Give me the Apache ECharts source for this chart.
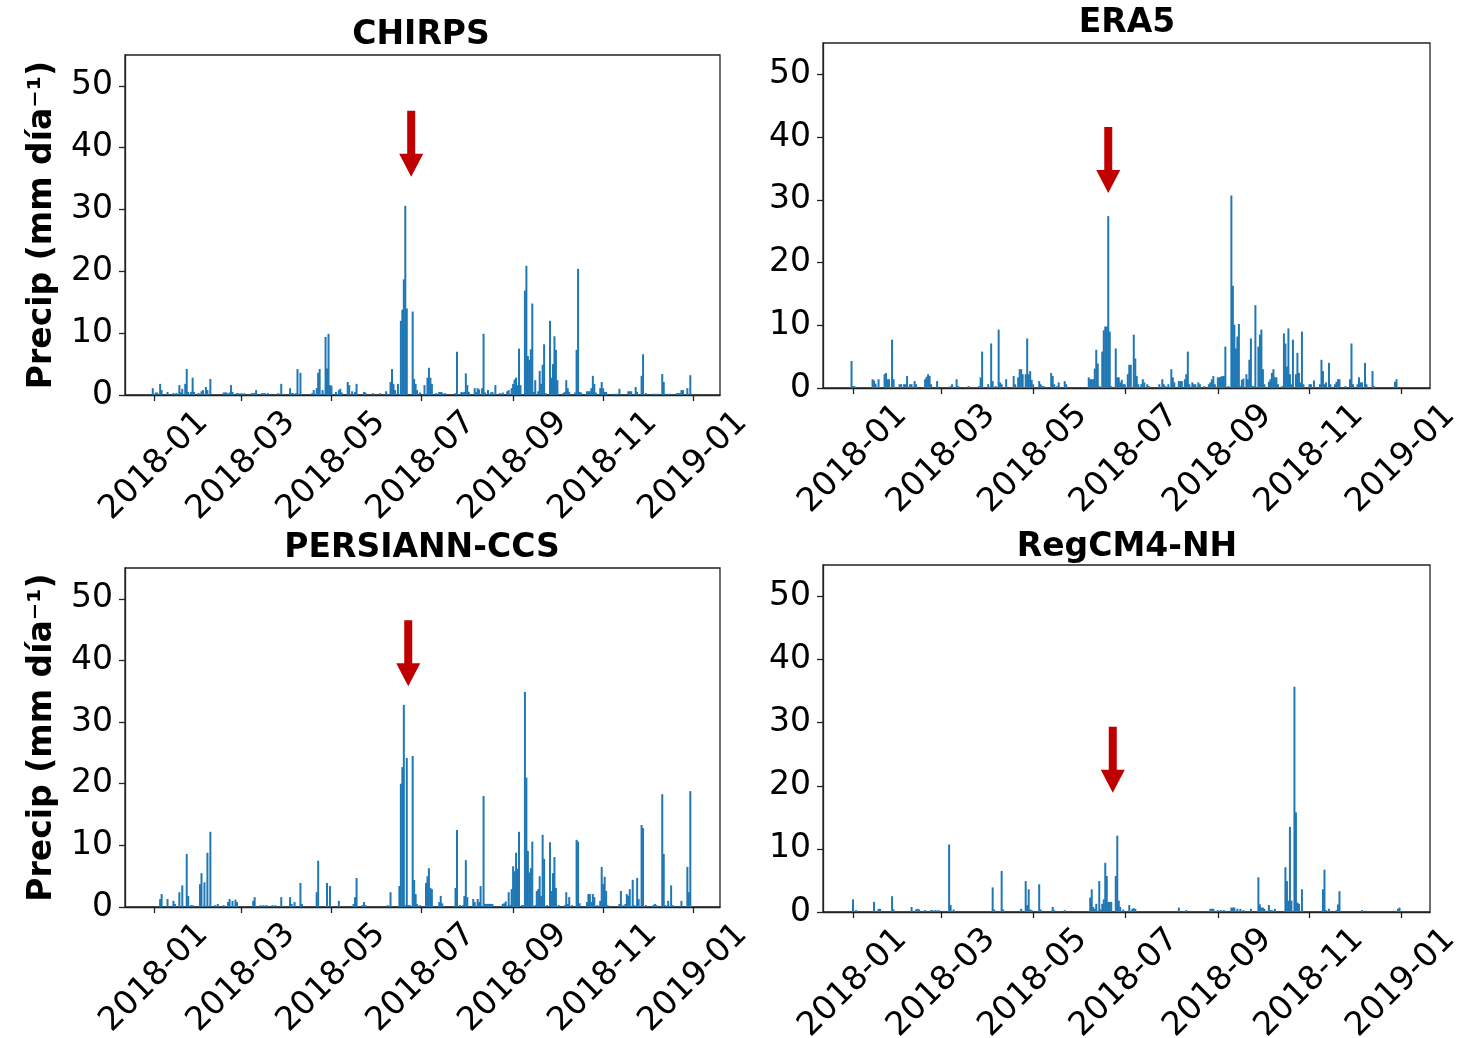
<!DOCTYPE html>
<html>
<head>
<meta charset="utf-8">
<script src="https://cdn.jsdelivr.net/npm/echarts@6/dist/echarts.min.js"></script>
<style>
html,body{margin:0;padding:0;background:#fff;}
#chart{width:1463px;height:1038px;}
</style>
</head>
<body>
<div id="chart"></div>
<script>
// Day offsets are counted from 2018-01-01 (day 0); values in mm/day.
const panelTitles = ['CHIRPS', 'ERA5', 'PERSIANN-CCS', 'RegCM4-NH'];
const tickDays = [0, 59, 120, 181, 243, 304, 365];
const tickLabels = ['2018-01', '2018-03', '2018-05', '2018-07', '2018-09', '2018-11', '2019-01'];
const yTicks = [0, 10, 20, 30, 40, 50];
const yLabel = 'Precip (mm día⁻¹)';

const chirps = [[-1,1.1],[1,0.4],[2,0.4],[4,1.8],[5,0.8],[9,0.5],[13,0.3],[15,0.3],[17,1.6],[18,0.4],[19,1.0],[21,1.8],[22,4.2],[23,0.5],[25,0.5],[26,2.8],[27,0.5],[30,0.3],[32,0.6],[33,0.8],[35,1.3],[36,0.8],[38,2.6],[47,0.4],[48,0.4],[49,0.4],[51,0.4],[52,1.6],[53,0.5],[56,0.3],[57,0.3],[59,0.3],[61,0.3],[66,0.3],[67,0.3],[68,0.3],[69,0.8],[73,0.3],[74,0.3],[75,0.3],[77,0.3],[84,0.3],[86,1.8],[92,1.1],[93,0.3],[94,0.3],[96,0.3],[97,4.2],[99,3.6],[107,0.3],[108,0.8],[110,1.1],[111,3.6],[112,4.2],[114,0.8],[116,9.4],[117,4.3],[118,9.9],[119,1.6],[120,1.5],[123,0.5],[125,0.8],[126,1.0],[127,0.4],[131,2.1],[132,1.6],[134,0.6],[136,0.5],[137,1.8],[142,0.5],[143,0.4],[148,0.3],[153,0.3],[157,0.6],[160,2.1],[161,4.2],[162,1.8],[163,0.8],[165,1.8],[167,12.0],[168,13.8],[169,18.7],[170,30.6],[171,14.0],[175,13.5],[176,2.6],[177,1.8],[178,0.8],[180,0.4],[183,1.6],[185,2.8],[186,4.4],[187,2.8],[188,1.8],[191,0.3],[193,0.5],[194,0.5],[195,0.4],[197,0.3],[204,0.3],[205,7.0],[208,0.5],[209,0.4],[210,0.5],[211,3.5],[212,1.6],[213,0.5],[217,1.1],[218,0.5],[219,1.1],[220,0.9],[222,1.1],[223,9.9],[224,0.4],[226,0.8],[228,0.4],[229,0.5],[231,1.6],[234,0.3],[236,0.4],[239,0.6],[240,0.8],[242,1.1],[243,1.8],[244,2.5],[245,2.8],[246,1.6],[247,7.5],[248,1.6],[251,16.9],[252,20.9],[253,6.3],[254,5.7],[255,7.4],[256,14.8],[257,0.5],[258,2.4],[260,0.6],[261,3.9],[262,1.8],[263,4.9],[264,8.2],[265,0.3],[268,12.0],[269,2.8],[270,5.0],[271,9.5],[272,7.3],[273,2.4],[277,0.3],[278,0.5],[279,2.4],[280,1.1],[281,0.5],[285,0.4],[286,7.3],[287,20.4],[288,0.5],[289,0.4],[293,0.6],[294,0.6],[295,0.6],[296,1.1],[297,3.1],[298,1.8],[299,0.4],[302,1.1],[303,2.1],[304,1.1],[305,0.5],[306,0.5],[311,0.2],[313,0.2],[315,1.0],[321,0.6],[322,0.6],[323,0.6],[326,1.3],[327,0.5],[330,3.1],[331,6.6],[333,0.3],[338,0.2],[339,0.2],[341,0.2],[344,3.4],[345,2.1],[346,0.2],[349,0.2],[354,0.3],[355,0.3],[356,0.3],[357,0.8],[358,0.8],[361,1.1],[363,3.2]];

const era5 = [[-1,4.3],[0,0.3],[1,0.3],[13,1.4],[14,1.2],[15,0.7],[17,1.4],[21,2.2],[22,2.4],[23,1.4],[24,1.4],[26,7.7],[27,1.4],[31,0.6],[32,0.6],[34,0.6],[35,0.6],[36,1.9],[38,0.6],[39,0.6],[41,1.1],[42,0.6],[48,1.4],[49,1.8],[50,2.2],[51,1.9],[52,0.6],[56,1.1],[65,0.3],[66,0.6],[69,1.4],[70,0.3],[77,0.3],[84,0.3],[85,1.7],[86,5.8],[90,0.6],[92,7.1],[93,1.1],[95,0.3],[97,9.3],[98,0.9],[99,0.6],[102,1.4],[107,1.9],[108,0.6],[110,1.7],[111,3.0],[112,3.0],[113,2.2],[115,2.2],[116,7.9],[117,2.2],[118,2.7],[119,1.3],[120,0.6],[124,1.1],[125,0.6],[126,0.3],[127,0.3],[132,2.4],[133,1.9],[134,0.6],[136,0.3],[137,0.9],[141,1.1],[142,0.6],[157,1.7],[158,1.4],[159,1.4],[160,1.4],[161,3.1],[162,6.1],[163,3.9],[164,0.3],[166,5.8],[167,9.2],[168,9.8],[169,9.8],[170,27.4],[171,9.0],[172,0.3],[175,6.3],[176,1.7],[177,1.7],[178,0.9],[179,1.3],[180,0.6],[181,0.6],[183,2.2],[184,3.7],[185,3.7],[187,8.5],[188,4.7],[189,1.9],[190,0.6],[192,0.6],[193,1.4],[194,0.9],[196,0.6],[197,0.3],[204,0.6],[206,1.4],[207,0.6],[208,0.3],[210,0.6],[212,3.0],[213,1.7],[214,0.9],[217,1.1],[218,1.1],[219,1.1],[221,1.4],[222,2.2],[223,5.8],[224,0.6],[226,0.9],[227,0.6],[228,0.6],[230,0.9],[231,0.6],[234,0.3],[237,0.6],[238,0.9],[239,1.4],[240,1.9],[241,0.6],[243,1.7],[244,1.7],[245,1.8],[246,1.9],[247,1.9],[248,6.6],[250,0.3],[252,30.7],[253,16.3],[254,10.1],[255,6.3],[256,8.2],[257,10.2],[258,0.3],[259,1.3],[260,1.5],[262,2.2],[263,1.4],[264,4.5],[265,7.9],[266,0.3],[267,0.3],[268,13.2],[270,6.6],[271,8.5],[272,9.3],[273,3.0],[274,0.6],[277,1.0],[278,1.4],[279,2.4],[280,3.0],[281,1.7],[282,1.7],[283,0.6],[286,0.3],[287,8.7],[288,7.1],[289,3.4],[290,9.5],[291,2.2],[292,0.6],[293,7.7],[295,2.2],[296,5.6],[297,2.4],[298,0.9],[299,9.0],[300,0.6],[304,0.6],[305,0.6],[307,1.2],[311,0.6],[312,4.5],[313,2.7],[314,0.6],[315,0.9],[317,4.0],[318,0.6],[321,0.6],[322,1.0],[323,1.4],[324,1.4],[328,0.3],[331,1.4],[332,7.1],[333,0.6],[336,0.6],[337,1.7],[338,0.9],[339,0.9],[341,4.0],[342,0.6],[346,2.7],[347,0.3],[361,1.0],[362,1.4]];

const persiann = [[4,1.3],[5,2.1],[9,1.3],[13,1.0],[14,0.5],[17,2.4],[19,3.5],[22,8.6],[23,1.8],[25,0.3],[26,0.3],[31,3.7],[32,5.5],[34,4.0],[36,8.8],[38,12.2],[41,0.3],[43,0.5],[47,0.3],[50,0.8],[51,1.3],[53,1.0],[55,1.2],[56,0.8],[67,1.0],[68,1.6],[72,0.3],[74,0.3],[76,0.3],[80,0.3],[82,0.3],[86,1.6],[92,1.6],[93,0.5],[95,0.8],[99,3.9],[100,0.5],[110,2.4],[111,7.5],[117,3.9],[119,3.4],[125,1.0],[135,0.5],[136,1.6],[137,4.7],[141,0.3],[142,0.8],[143,0.3],[158,0.3],[160,2.4],[166,3.4],[167,20.0],[168,22.7],[169,32.8],[170,0.3],[171,24.2],[172,0.3],[173,0.3],[175,24.5],[176,4.4],[177,2.1],[178,0.5],[180,0.3],[184,3.9],[185,5.0],[186,6.3],[187,3.1],[188,2.9],[193,0.8],[194,1.8],[195,0.6],[204,3.1],[205,12.5],[207,0.3],[209,0.3],[210,1.8],[211,7.6],[212,1.6],[216,1.3],[217,0.8],[219,1.3],[220,0.8],[221,3.4],[223,18.0],[224,0.5],[225,0.5],[226,0.5],[227,0.5],[228,0.5],[229,0.5],[236,0.5],[237,0.6],[238,0.9],[240,2.4],[241,0.3],[242,2.9],[243,6.6],[244,5.8],[245,8.8],[246,6.2],[247,12.2],[249,0.3],[250,0.3],[251,34.9],[252,21.0],[253,9.1],[254,5.6],[255,6.3],[256,10.6],[258,0.3],[259,2.6],[260,2.9],[261,5.0],[262,1.8],[263,11.7],[264,7.8],[266,0.3],[268,10.5],[269,2.6],[270,5.5],[271,8.1],[272,3.1],[274,0.3],[278,0.3],[279,2.4],[280,0.5],[281,1.6],[283,0.3],[286,10.9],[287,10.6],[288,0.6],[293,0.8],[294,2.1],[295,2.1],[296,0.8],[297,2.1],[298,1.6],[300,0.3],[302,1.0],[303,6.5],[304,3.7],[305,4.9],[306,2.6],[307,0.3],[315,0.5],[316,2.6],[317,0.3],[319,0.5],[320,2.1],[321,1.8],[322,2.9],[324,4.4],[325,0.3],[327,4.7],[328,1.3],[330,13.3],[331,12.8],[333,0.3],[338,0.3],[339,0.5],[340,0.3],[344,18.3],[345,8.6],[346,0.3],[348,1.0],[350,3.5],[351,0.3],[357,1.0],[361,6.5],[362,2.4],[363,18.8]];

const regcm = [[0,2.0],[2,0.3],[14,1.6],[17,0.5],[18,0.5],[26,2.5],[27,0.4],[39,0.8],[42,0.4],[43,0.5],[44,0.4],[48,0.3],[52,0.3],[53,0.3],[55,0.3],[57,0.3],[64,10.7],[65,1.1],[67,0.4],[93,3.9],[94,0.4],[99,6.5],[100,0.4],[112,0.5],[115,4.9],[116,1.1],[117,3.6],[118,0.4],[119,0.3],[124,4.4],[125,0.4],[133,0.8],[134,0.3],[141,0.3],[158,2.3],[159,3.6],[160,0.8],[161,0.5],[162,1.3],[164,4.9],[165,0.4],[166,1.3],[167,2.0],[168,7.8],[169,5.7],[170,1.6],[171,1.6],[172,1.6],[175,5.7],[176,12.1],[177,1.8],[178,0.8],[180,0.4],[184,1.1],[186,0.5],[187,0.6],[188,0.5],[217,0.7],[222,0.3],[238,0.5],[239,0.5],[240,0.5],[243,0.3],[245,0.3],[247,0.3],[252,0.7],[253,0.7],[254,0.7],[256,0.5],[258,0.5],[260,0.3],[265,0.5],[270,5.5],[271,1.2],[272,0.7],[273,0.7],[274,0.5],[277,1.1],[278,0.3],[279,0.3],[281,0.5],[288,7.1],[289,4.9],[290,1.8],[291,13.5],[292,1.8],[294,35.7],[295,15.8],[296,1.5],[297,1.3],[299,3.6],[313,3.6],[314,6.7],[315,0.3],[317,0.5],[322,0.3],[323,1.2],[324,3.3],[339,0.3],[363,0.5],[364,0.7]];

// red arrows: [day, value at arrow tip] for each panel
const arrowTips = [[174, 35.3], [170, 31.1], [172, 35.8], [173, 18.9]];

const seriesData = [chirps, era5, persiann, regcm];

const grids = [
  {left: 125, top: 55, width: 595, height: 340},
  {left: 823, top: 43, width: 607, height: 345},
  {left: 125, top: 568, width: 595, height: 339},
  {left: 823, top: 565, width: 607, height: 347}
];
const xRanges = [[-19.8, 383.1], [-20, 384.3], [-19.8, 383.1], [-20, 384.3]];
const titlePos = [[421, 35], [1127, 23], [422, 548], [1127, 547]];

const FONT = 'DejaVu Sans';
const ARROW = 'path://M8,0 L16,0 L16,43 L24,43 L12,66 L0,43 L8,43 Z';
const spine = {color: '#222', width: 1.3};

const option = {
  animation: false,
  backgroundColor: '#fff',
  title: panelTitles.map((t, i) => ({
    text: t, left: titlePos[i][0], top: titlePos[i][1],
    textAlign: 'center', textVerticalAlign: 'middle', padding: 0,
    textStyle: {fontFamily: FONT, fontSize: 33, fontWeight: 'bold', color: '#000'}
  })),
  grid: grids.map(g => Object.assign({
    show: true, borderColor: '#222', borderWidth: 1.3, backgroundColor: 'transparent',
    containLabel: false, outerBoundsMode: 'none'
  }, g)),
  xAxis: grids.map((g, i) => ({
    gridIndex: i, type: 'value', min: xRanges[i][0], max: xRanges[i][1],
    axisLine: {show: true, onZero: false, lineStyle: spine},
    axisTick: {show: true, customValues: tickDays, length: 6, lineStyle: spine},
    axisLabel: {
      customValues: tickDays,
      formatter: v => tickLabels[tickDays.indexOf(v)] || '',
      rotate: 45, align: 'center', verticalAlign: 'middle', margin: 71,
      fontFamily: FONT, fontSize: 33, color: '#000'
    },
    splitLine: {show: false}
  })),
  yAxis: grids.map((g, i) => ({
    gridIndex: i, type: 'value', min: 0, max: 55,
    name: (i % 2 === 0) ? yLabel : '',
    nameLocation: 'middle', nameGap: 66,
    nameTextStyle: {fontFamily: FONT, fontSize: 33, fontWeight: 'bold', color: '#000'},
    axisLine: {show: true, onZero: false, lineStyle: spine},
    axisTick: {show: true, customValues: yTicks, length: 6, lineStyle: spine},
    axisLabel: {customValues: yTicks, margin: 12, fontFamily: FONT, fontSize: 33, color: '#000'},
    splitLine: {show: false}
  })),
  series: seriesData.map((d, i) => ({
    type: 'bar', name: panelTitles[i], xAxisIndex: i, yAxisIndex: i,
    data: d, barWidth: 2,
    itemStyle: {color: '#1f77b4'},
    markPoint: {
      silent: true,
      symbol: ARROW, symbolSize: [24, 66], symbolOffset: [0, -33],
      itemStyle: {color: '#c00000'},
      label: {show: false},
      data: [{coord: arrowTips[i]}]
    }
  }))
};

const chart = echarts.init(document.getElementById('chart'), null, {renderer: 'canvas'});
chart.setOption(option);
</script>
</body>
</html>
